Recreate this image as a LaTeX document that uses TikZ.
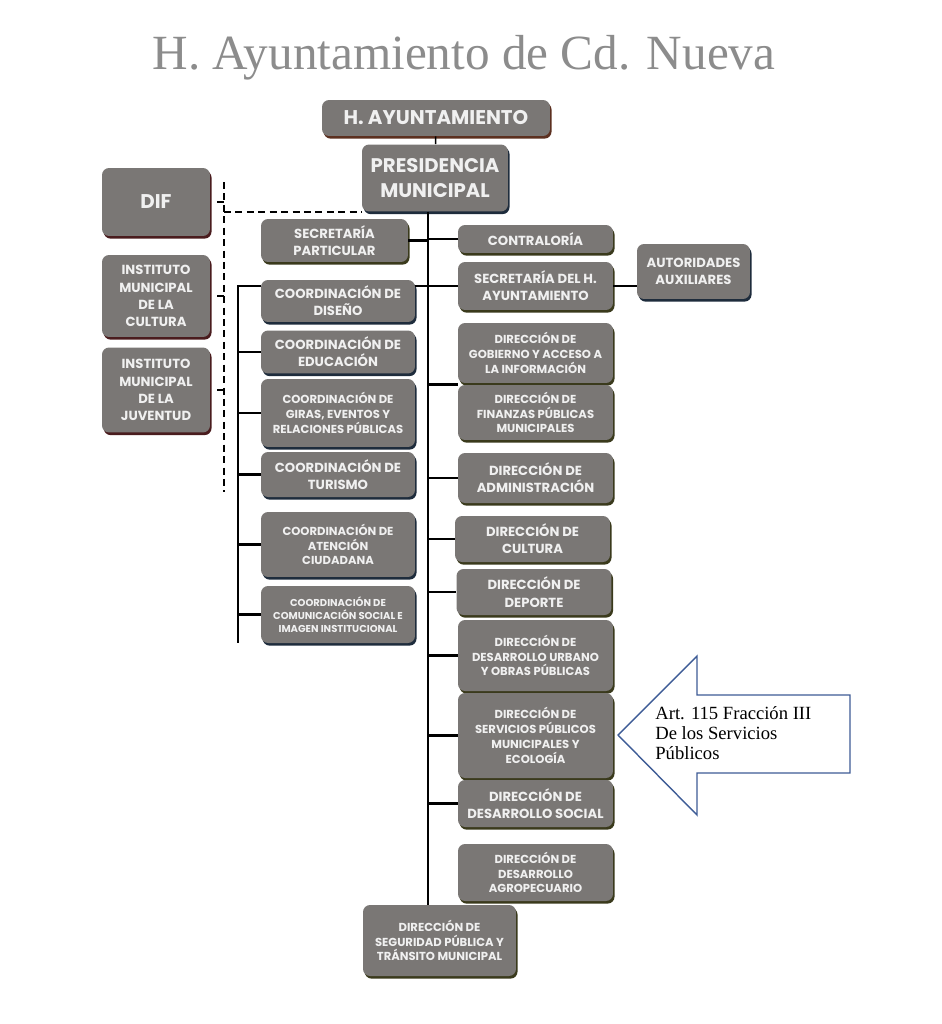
\documentclass[tikz,border=0pt]{standalone}
\usepackage{fontspec}
\setmainfont{Liberation Serif}
\setsansfont{Poppins}
\usetikzlibrary{shadows}
\definecolor{boxgray}{RGB}{122,119,117}
\definecolor{boxtext}{RGB}{240,240,240}
\definecolor{rimbrown}{RGB}{92,48,32}
\definecolor{rimnavy}{RGB}{30,44,60}
\definecolor{rimred}{RGB}{74,28,30}
\definecolor{rimolive}{RGB}{58,58,28}
\definecolor{arrowblue}{RGB}{62,92,150}
\definecolor{titlegray}{RGB}{140,140,140}
\tikzset{
  orgbox/.style={fill=boxgray, text=boxtext, rounded corners=4pt, align=center, inner sep=1pt,
    drop shadow={shadow xshift=0.9pt, shadow yshift=-1.5pt, fill=#1, opacity=1}},
  orgbox/.default=rimolive,
  fbig/.style={font=\sffamily\bfseries\fontsize{11.2}{13.8}\selectfont},
  flarge/.style={font=\sffamily\bfseries\fontsize{11.3}{13}\selectfont},
  fmid/.style={font=\sffamily\bfseries\fontsize{7.5}{9.8}\selectfont},
  fsmall/.style={font=\sffamily\bfseries\fontsize{6.6}{8.4}\selectfont},
  ftiny/.style={font=\sffamily\bfseries\fontsize{5.7}{7.3}\selectfont},
  link/.style={draw, line width=1.5pt},
  dashlink/.style={draw, line width=0.8pt, dash pattern=on 4pt off 2.5pt}
}
\begin{document}
\begin{tikzpicture}[x=0.02cm, y=-0.02cm]
\fill[white] (0,0) rectangle (941,1024);
\useasboundingbox (0,0) rectangle (941,1024);

\node[anchor=base, text=titlegray, font=\fontsize{28}{32}\selectfont] (title) at (464,70) {H. Ayuntamiento de Cd. Nueva};

\node[orgbox=rimbrown, flarge, minimum width=4.56cm, minimum height=0.72cm] (hayunt) at (436,118) {H. AYUNTAMIENTO};
\node[orgbox=rimnavy, fbig, minimum width=2.92cm, minimum height=1.34cm] (pres) at (435,178) {PRESIDENCIA\\MUNICIPAL};

\node[orgbox=rimred, flarge, minimum width=2.16cm, minimum height=1.36cm] (dif) at (156,202) {DIF};
\node[orgbox=rimred, fmid, minimum width=2.16cm, minimum height=1.64cm] (cult) at (156,296) {INSTITUTO\\MUNICIPAL\\DE LA\\CULTURA};
\node[orgbox=rimred, fmid, minimum width=2.16cm, minimum height=1.7cm] (juv) at (156,390) {INSTITUTO\\MUNICIPAL\\DE LA\\JUVENTUD};

\node[orgbox, fmid, minimum width=2.94cm, minimum height=0.86cm] (secp) at (334.5,240.5) {SECRETARÍA\\PARTICULAR};
\node[orgbox=rimnavy, fmid, minimum width=3.08cm, minimum height=0.84cm] (diseno) at (338,301) {COORDINACIÓN DE\\DISEÑO};
\node[orgbox=rimnavy, fmid, minimum width=3.08cm, minimum height=0.86cm] (educ) at (338,352) {COORDINACIÓN DE\\EDUCACIÓN};
\node[orgbox=rimnavy, fsmall, minimum width=3.08cm, minimum height=1.36cm] (giras) at (338,413) {COORDINACIÓN DE\\GIRAS, EVENTOS Y\\RELACIONES PÚBLICAS};
\node[orgbox=rimnavy, fmid, minimum width=3.08cm, minimum height=0.9cm] (tur) at (338,474.5) {COORDINACIÓN DE\\TURISMO};
\node[orgbox=rimnavy, fsmall, minimum width=3.08cm, minimum height=1.3cm] (aten) at (338,544.5) {COORDINACIÓN DE\\ATENCIÓN\\CIUDADANA};
\node[orgbox=rimnavy, ftiny, minimum width=3.08cm, minimum height=1.14cm] (comu) at (338,614.5) {COORDINACIÓN DE\\COMUNICACIÓN SOCIAL E\\IMAGEN INSTITUCIONAL};

\node[orgbox, fmid, minimum width=3.1cm, minimum height=0.56cm] (contr) at (535.5,239) {CONTRALORÍA};
\node[orgbox, fmid, minimum width=3.1cm, minimum height=0.96cm] (sech) at (535.5,286) {SECRETARÍA DEL H.\\AYUNTAMIENTO};
\node[orgbox=rimnavy, fmid, minimum width=2.26cm, minimum height=1.1cm] (auto) at (693.5,271.5) {AUTORIDADES\\AUXILIARES};
\node[orgbox, fsmall, minimum width=3.1cm, minimum height=1.2cm] (gob) at (535.5,353) {DIRECCIÓN DE\\GOBIERNO Y ACCESO A\\LA INFORMACIÓN};
\node[orgbox, fsmall, minimum width=3.1cm, minimum height=1.1cm] (fin) at (535.5,412.5) {DIRECCIÓN DE\\FINANZAS PÚBLICAS\\MUNICIPALES};
\node[orgbox, fmid, minimum width=3.1cm, minimum height=1.0cm] (adm) at (535.5,478) {DIRECCIÓN DE\\ADMINISTRACIÓN};
\node[orgbox, fmid, minimum width=3.1cm, minimum height=0.92cm] (dcul) at (532.5,539) {DIRECCIÓN DE\\CULTURA};
\node[orgbox, fmid, minimum width=3.1cm, minimum height=0.92cm] (dep) at (534,592) {DIRECCIÓN DE\\DEPORTE};
\node[orgbox, fsmall, minimum width=3.1cm, minimum height=1.42cm] (urb) at (535.5,655.5) {DIRECCIÓN DE\\DESARROLLO URBANO\\Y OBRAS PÚBLICAS};
\node[orgbox, fsmall, minimum width=3.1cm, minimum height=1.7cm] (serv) at (535.5,735.5) {DIRECCIÓN DE\\SERVICIOS PÚBLICOS\\MUNICIPALES Y\\ECOLOGÍA};
\node[orgbox, fmid, minimum width=3.1cm, minimum height=0.94cm] (soc) at (535.5,803.5) {DIRECCIÓN DE\\DESARROLLO SOCIAL};
\node[orgbox, fsmall, minimum width=3.1cm, minimum height=1.14cm] (agro) at (535.5,872.5) {DIRECCIÓN DE\\DESARROLLO\\AGROPECUARIO};
\node[orgbox, fsmall, minimum width=3.06cm, minimum height=1.42cm] (seg) at (439.5,940.5) {DIRECCIÓN DE\\SEGURIDAD PÚBLICA Y\\TRÁNSITO MUNICIPAL};

\coordinate (bus) at (428,0);
\coordinate (lbus) at (238,0);
\coordinate (dbus) at (224,182);
\coordinate (dend) at (224,492);

\path[draw, line width=0.8pt] (hayunt) -- (pres);
\path[link] (pres.south -| bus) -- (seg.north -| bus);
\path[link] (secp.east) -- (bus |- secp.east);
\path[link] (bus |- contr.west) -- (contr.west);
\path[link] (sech.west -| diseno.east) -- (sech.west);
\path[link] (bus |- fin.north west) -- (fin.north west);
\foreach \n in {adm,dcul,dep,urb,serv,soc}
  \path[link] (bus |- \n.west) -- (\n.west);
\path[link] (sech.east) -- (sech.east -| auto.west);
\path[link] (sech.west -| diseno.west) -- (sech.west -| lbus) -- (comu.south -| lbus);
\foreach \n in {educ,giras,tur,aten,comu}
  \path[link] (lbus |- \n.west) -- (\n.west);

\path[dashlink] (dbus) -- (dend);
\path[dashlink] (dbus |- pres.south west) -- (pres.south west);
\foreach \n in {dif,cult,juv}
  \path[draw, line width=0.8pt, shorten <=4pt] (\n.east) -- (\n.east -| dbus);

\draw[arrowblue, line width=0.8pt, fill=white] (618,735) -- (697,656) -- (697,695) -- (850,695) -- (850,773) -- (697,773) -- (697,815) -- cycle;
\node[anchor=north west, inner sep=0pt, align=left, font=\fontsize{10.6}{11.5}\selectfont] (art) at (655,706) {Art. 115 Fracción III\\De los Servicios\\Públicos};
\end{tikzpicture}
\end{document}
